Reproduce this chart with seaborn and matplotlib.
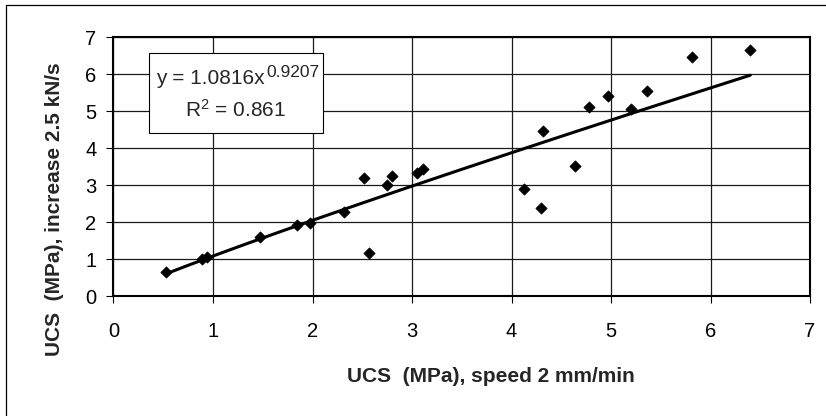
import numpy as np
import pandas as pd
import matplotlib
matplotlib.use("Agg")
import matplotlib.pyplot as plt
from matplotlib.patches import Rectangle
from matplotlib.lines import Line2D
import seaborn as sns

# ---- data ----
ucs_speed = [0.53, 0.89, 0.94, 1.47, 1.845, 1.97, 2.32, 2.52, 2.57, 2.75, 2.80,
             3.05, 3.11, 4.13, 4.30, 4.315, 4.64, 4.78, 4.97, 5.20, 5.36, 5.81, 6.40]
ucs_rate = [0.66, 0.99, 1.06, 1.60, 1.92, 1.98, 2.28, 3.18, 1.17, 2.99, 3.25,
            3.33, 3.43, 2.90, 2.39, 4.46, 3.52, 5.12, 5.40, 5.07, 5.54, 6.48, 6.66]
fit_coef = 1.0816
fit_exp = 0.9207
fit_r2 = 0.861
x_ticks = [0, 1, 2, 3, 4, 5, 6, 7]
y_ticks = [0, 1, 2, 3, 4, 5, 6, 7]
x_label = "UCS  (MPa), speed 2 mm/min"
y_label = "UCS  (MPa), increase 2.5 kN/s"

df = pd.DataFrame({"x": ucs_speed, "y": ucs_rate})
xs = np.linspace(min(ucs_speed), max(ucs_speed), 200)
trend = pd.DataFrame({"x": xs, "y": fit_coef * xs ** fit_exp})

sns.set_style("ticks")
plt.rcParams["font.family"] = ["Liberation Sans", "DejaVu Sans"]
plt.rcParams["mathtext.fontset"] = "custom"
plt.rcParams["mathtext.rm"] = "Liberation Sans"
plt.rcParams["mathtext.default"] = "regular"

W, H = 826, 416
fig = plt.figure(figsize=(W / 100, H / 100), dpi=100)
AX_L, AX_R, AX_T, AX_B = 113.5, 810.0, 37.3, 296.0
ax = fig.add_axes([AX_L / W, 1 - AX_B / H, (AX_R - AX_L) / W, (AX_B - AX_T) / H])

sns.lineplot(data=trend, x="x", y="y", ax=ax, color="black", linewidth=2.2, zorder=3)
sns.scatterplot(data=df, x="x", y="y", ax=ax, marker="D", s=33, color="black",
                edgecolor="black", linewidth=0.5, zorder=4)

ax.set_xlim(0, 7)
ax.set_ylim(0, 7)
ax.set_xticks(x_ticks)
ax.set_yticks(y_ticks)
ax.grid(True, color="#1a1a1a", linewidth=0.9)
ax.set_axisbelow(True)
for sp in ax.spines.values():
    sp.set_visible(True)
    sp.set_color("black")
    sp.set_linewidth(1.5)
ax.tick_params(axis="x", direction="out", length=5, width=0.8, pad=14,
               labelsize=14.5, colors="black")
ax.tick_params(axis="y", direction="out", length=4.8, width=0.8, pad=7.5,
               labelsize=14.5, colors="black")

ax.set_xlabel(x_label, fontsize=15, fontweight="bold", va="center", ha="center")
ax.xaxis.set_label_coords(0.542, -0.31)
ax.set_ylabel(y_label, fontsize=15, fontweight="bold", va="center", ha="center")
ax.yaxis.set_label_coords(-0.0854, 0.336)


def px_x(p):
    return (p - AX_L) / (AX_R - AX_L)


def px_y(p):
    return (AX_B - p) / (AX_B - AX_T)


# equation box
bx0, bx1 = px_x(149), px_x(322.7)
by0, by1 = px_y(133), px_y(53)
ax.add_patch(Rectangle((bx0, by0), bx1 - bx0, by1 - by0, transform=ax.transAxes,
                       facecolor="white", edgecolor="black", linewidth=0.8, zorder=5))
ax.text(px_x(265), px_y(83.5), "y = %sx" % fit_coef,
        transform=ax.transAxes, ha="right", va="baseline", fontsize=15, zorder=6)
ax.text(px_x(266.5), px_y(77), "%s" % fit_exp,
        transform=ax.transAxes, ha="left", va="baseline", fontsize=12.5, zorder=6)
ax.text((bx0 + bx1) / 2, px_y(116.7), "R$^{2}$ = %s" % fit_r2,
        transform=ax.transAxes, ha="center", va="baseline", fontsize=15, zorder=6)

# outer chart border (left and top visible)
fig.add_artist(Line2D([6 / W, 6 / W, 1], [0, 1 - 5 / H, 1 - 5 / H],
                      transform=fig.transFigure, color="black", linewidth=0.9))

fig.savefig("out.png", dpi=100)
